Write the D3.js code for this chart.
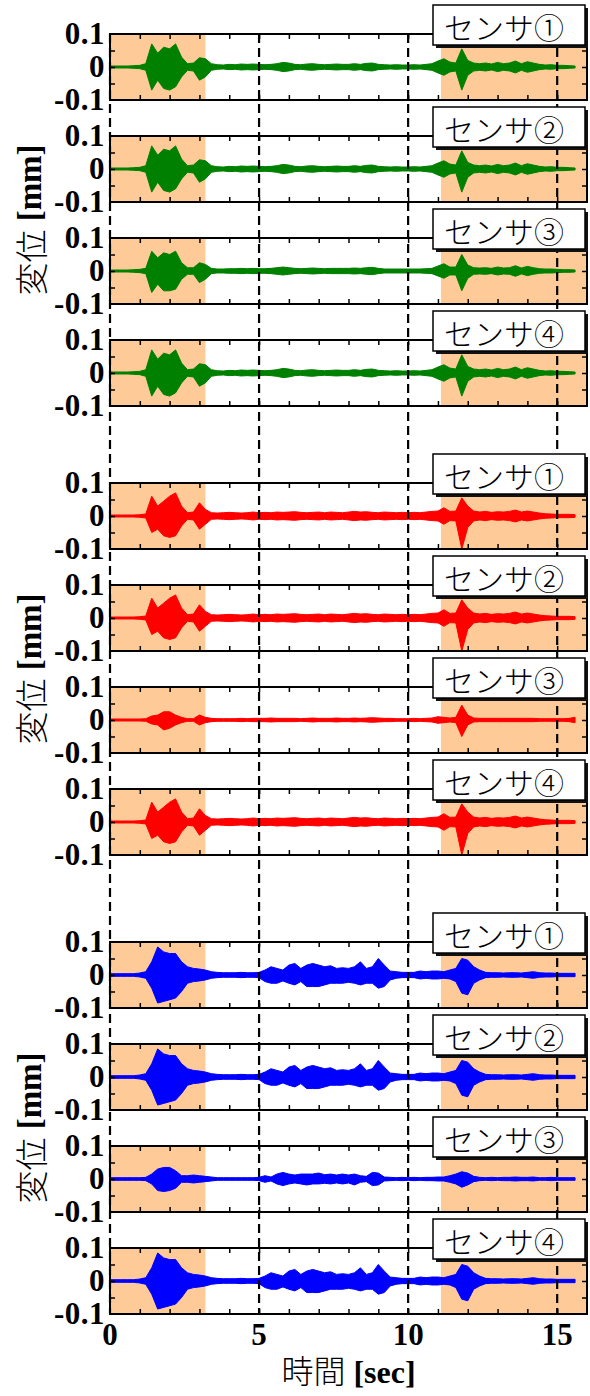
<!DOCTYPE html>
<html>
<head>
<meta charset="utf-8">
<script src="https://cdn.jsdelivr.net/npm/d3@7"></script>
<style>
  body { margin: 0; background: #fff; }
  svg { display: block; }
</style>
</head>
<body>
<div id="chart"></div>
<script>
// Displacement records, 3 cases x 4 sensors
// Signals are kept as envelopes (upper / lower peaks) in 0.001 mm, sampled every 0.2 sec

const TIME = [
  0, 0.2, 0.4, 0.6, 0.8, 1, 1.2, 1.4, 1.6, 1.8,
  2, 2.2, 2.4, 2.6, 2.8, 3, 3.2, 3.4, 3.6, 3.8,
  4, 4.2, 4.4, 4.6, 4.8, 5, 5.2, 5.4, 5.6, 5.8,
  6, 6.2, 6.4, 6.6, 6.8, 7, 7.2, 7.4, 7.6, 7.8,
  8, 8.2, 8.4, 8.6, 8.8, 9, 9.2, 9.4, 9.6, 9.8,
  10, 10.2, 10.4, 10.6, 10.8, 11, 11.2, 11.4, 11.6, 11.8,
  12, 12.2, 12.4, 12.6, 12.8, 13, 13.2, 13.4, 13.6, 13.8,
  14, 14.2, 14.4, 14.6, 14.8, 15, 15.2, 15.4, 15.6
];

// green case
const G1_UP = [
  3, 3, 3, 3, 4, 5, 10, 70, 42, 60,
  55, 70, 30, 10, 12, 28, 25, 10, 7, 6,
  8, 7, 9, 8, 9, 8, 7, 8, 10, 14,
  12, 8, 7, 9, 10, 8, 7, 8, 9, 8,
  8, 10, 8, 11, 12, 8, 7, 6, 7, 6,
  6, 7, 6, 8, 10, 18, 25, 15, 12, 55,
  20, 12, 10, 12, 9, 14, 10, 12, 18, 10,
  16, 12, 8, 6, 7, 5, 5, 4, 3
];
const G1_LO = [
  -3, -3, -3, -3, -4, -5, -10, -70, -40, -65,
  -70, -60, -30, -10, -12, -40, -30, -10, -7, -6,
  -8, -7, -9, -8, -9, -8, -7, -8, -10, -14,
  -12, -8, -7, -9, -10, -8, -7, -8, -9, -8,
  -8, -10, -8, -11, -12, -8, -7, -6, -7, -6,
  -6, -7, -6, -8, -10, -18, -25, -15, -12, -70,
  -25, -12, -10, -12, -9, -14, -10, -12, -18, -10,
  -16, -12, -8, -6, -7, -5, -5, -4, -3
];
const G3_UP = [
  3, 3, 3, 3, 4, 5, 8, 60, 40, 55,
  50, 60, 25, 10, 10, 25, 20, 8, 6, 6,
  7, 7, 8, 7, 8, 7, 7, 8, 10, 12,
  10, 8, 7, 8, 9, 8, 7, 8, 8, 8,
  8, 9, 8, 10, 11, 8, 6, 6, 6, 6,
  6, 6, 6, 7, 8, 15, 22, 12, 12, 50,
  18, 10, 9, 10, 8, 12, 9, 10, 16, 9,
  14, 10, 7, 6, 6, 5, 4, 4, 3
];
const G3_LO = [
  -3, -3, -3, -3, -4, -5, -8, -65, -40, -60,
  -60, -55, -25, -10, -10, -35, -25, -8, -6, -6,
  -7, -7, -8, -7, -8, -7, -7, -8, -10, -12,
  -10, -8, -7, -8, -9, -8, -7, -8, -8, -8,
  -8, -9, -8, -10, -11, -8, -6, -6, -6, -6,
  -6, -6, -6, -7, -8, -15, -22, -12, -12, -60,
  -22, -10, -9, -10, -8, -12, -9, -10, -16, -9,
  -14, -10, -7, -6, -6, -5, -4, -4, -3
];

// red case
const R1_UP = [
  3, 3, 3, 3, 3, 4, 6, 60, 30, 45,
  60, 70, 30, 10, 12, 40, 20, 10, 9, 10,
  11, 10, 9, 10, 12, 10, 11, 10, 12, 11,
  12, 13, 11, 10, 11, 12, 10, 12, 11, 10,
  12, 14, 12, 13, 11, 10, 12, 11, 10, 11,
  10, 11, 10, 12, 14, 15, 25, 14, 15, 55,
  30, 15, 12, 14, 11, 13, 12, 14, 18, 12,
  15, 12, 9, 7, 6, 5, 5, 5, 4
];
const R1_LO = [
  -3, -3, -3, -3, -3, -4, -6, -50, -40, -60,
  -65, -60, -30, -10, -12, -40, -25, -10, -9, -10,
  -11, -10, -9, -10, -12, -10, -11, -10, -12, -11,
  -12, -13, -11, -10, -11, -12, -10, -12, -11, -10,
  -12, -14, -12, -13, -11, -10, -12, -11, -10, -11,
  -10, -11, -10, -12, -14, -15, -25, -14, -15, -100,
  -35, -15, -12, -14, -11, -13, -12, -14, -18, -12,
  -15, -12, -9, -7, -6, -5, -5, -5, -4
];
const R3_UP = [
  3, 3, 3, 3, 3, 3, 4, 12, 15, 25,
  25, 15, 8, 4, 4, 15, 8, 5, 4, 4,
  4, 4, 5, 4, 5, 5, 5, 6, 5, 5,
  5, 5, 4, 5, 6, 5, 5, 5, 6, 5,
  5, 6, 5, 6, 7, 6, 5, 5, 4, 4,
  4, 5, 4, 5, 6, 10, 8, 6, 8, 45,
  15, 6, 5, 5, 5, 5, 5, 5, 5, 5,
  5, 5, 4, 4, 4, 4, 4, 5, 8
];
const R3_LO = [
  -3, -3, -3, -3, -3, -3, -4, -12, -15, -30,
  -25, -15, -8, -4, -4, -15, -8, -5, -4, -4,
  -4, -4, -5, -4, -5, -5, -5, -6, -5, -5,
  -5, -5, -4, -5, -6, -5, -5, -5, -6, -5,
  -5, -6, -5, -6, -7, -6, -5, -5, -4, -4,
  -4, -5, -4, -5, -6, -10, -8, -6, -8, -50,
  -15, -6, -5, -5, -5, -5, -5, -5, -5, -5,
  -5, -5, -4, -4, -4, -4, -4, -5, -8
];

// blue case
const B1_UP = [
  4, 4, 4, 4, 4, 6, 10, 40, 85, 70,
  65, 65, 40, 25, 20, 18, 15, 10, 8, 7,
  7, 7, 8, 7, 7, 8, 15, 25, 20, 15,
  30, 35, 20, 30, 35, 30, 25, 28, 20, 22,
  20, 25, 40, 20, 25, 50, 30, 12, 10, 8,
  8, 8, 12, 10, 12, 12, 10, 15, 20, 50,
  45, 25, 15, 8, 7, 7, 6, 7, 7, 6,
  8, 10, 7, 6, 6, 5, 5, 5, 5
];
const B1_LO = [
  -4, -4, -4, -4, -4, -6, -10, -40, -85, -80,
  -75, -70, -50, -25, -20, -18, -15, -10, -8, -7,
  -7, -7, -8, -7, -7, -8, -20, -25, -25, -18,
  -25, -30, -20, -35, -35, -35, -30, -25, -25, -25,
  -22, -25, -30, -25, -25, -40, -35, -15, -10, -8,
  -8, -8, -12, -10, -12, -12, -10, -12, -20, -55,
  -60, -25, -15, -8, -7, -7, -6, -7, -7, -6,
  -8, -10, -7, -6, -6, -5, -5, -5, -5
];
const B3_UP = [
  4, 4, 4, 4, 4, 4, 5, 15, 30, 35,
  35, 25, 10, 10, 12, 10, 8, 6, 4, 4,
  4, 4, 4, 4, 4, 5, 10, 6, 15, 20,
  15, 12, 15, 15, 15, 18, 13, 15, 12, 15,
  12, 15, 10, 8, 20, 18, 6, 5, 4, 5,
  4, 5, 4, 5, 5, 6, 6, 10, 15, 22,
  18, 8, 5, 4, 5, 4, 5, 5, 6, 5,
  5, 6, 4, 4, 5, 4, 4, 4, 4
];
const B3_LO = [
  -4, -4, -4, -4, -4, -4, -5, -15, -35, -38,
  -35, -28, -10, -10, -12, -10, -8, -6, -4, -4,
  -4, -4, -4, -4, -4, -5, -10, -6, -15, -20,
  -15, -12, -15, -18, -15, -15, -13, -15, -12, -15,
  -12, -18, -10, -8, -20, -18, -6, -5, -4, -5,
  -4, -5, -4, -5, -5, -6, -6, -10, -15, -25,
  -18, -8, -5, -4, -5, -4, -5, -5, -6, -5,
  -5, -6, -4, -4, -5, -4, -4, -4, -4
];

const SENSOR_LABELS = ['センサ①', 'センサ②', 'センサ③', 'センサ④'];
const X_LABEL_TICKS = [0, 5, 10, 15];
const X_MINOR_TICKS = [1, 2, 3, 4, 5, 6, 7, 8, 9, 10, 11, 12, 13, 14, 15];
const Y_LABEL_TICKS = [0.1, 0, -0.1];
const Y_MINOR_TICKS = [-0.05, 0, 0.05];
const SHADED = [[0, 3.2], [11.1, 16]];
const DASHED_AT = [0, 5, 10, 15];

const GROUPS = [
  { color: '#008000', panels: [[G1_UP, G1_LO], [G1_UP, G1_LO], [G3_UP, G3_LO], [G1_UP, G1_LO]] },
  { color: '#ff0000', panels: [[R1_UP, R1_LO], [R1_UP, R1_LO], [R3_UP, R3_LO], [R1_UP, R1_LO]] },
  { color: '#0000ff', panels: [[B1_UP, B1_LO], [B1_UP, B1_LO], [B3_UP, B3_LO], [B1_UP, B1_LO]] }
];

// layout
const W = 590, H = 1396;
const GROUP_TOP = [34, 483, 942];
const PANEL_H = 66, PANEL_STEP = 102;
const SERIF = '"Liberation Serif", "DejaVu Serif", serif';
const JP = '"Noto Sans CJK JP", sans-serif';

const svg = d3.select('#chart').append('svg')
  .attr('width', W)
  .attr('height', H);

const x = d3.scaleLinear().domain([0, 16]).range([110, 587]);

const panelLayer = svg.append('g');
const dashLayer = svg.append('g');
const labelLayer = svg.append('g');

GROUPS.forEach((group, gi) => {
  group.panels.forEach((panel, si) => {
    const top = GROUP_TOP[gi] + si * PANEL_STEP;
    const y = d3.scaleLinear().domain([-0.1, 0.1]).range([top + PANEL_H, top]);
    const g = panelLayer.append('g');

    // shaded time windows
    g.selectAll('.shade')
      .data(SHADED)
      .enter()
      .append('rect')
      .attr('x', d => x(d[0]))
      .attr('y', top)
      .attr('width', d => x(d[1]) - x(d[0]))
      .attr('height', PANEL_H)
      .attr('fill', '#fdca98');

    // signal envelope
    const rows = TIME.map((t, i) => ({ t: t, hi: panel[0][i] / 1000, lo: panel[1][i] / 1000 }));
    const area = d3.area()
      .x(d => x(d.t))
      .y0(d => y(d.lo))
      .y1(d => y(d.hi));
    g.append('path')
      .datum(rows)
      .attr('d', area)
      .attr('fill', group.color)
      .attr('stroke', group.color)
      .attr('stroke-width', 1);

    // inward ticks on all four sides
    const tickStyle = sel => {
      sel.select('.domain').remove();
      sel.selectAll('line').attr('stroke', '#000').attr('stroke-width', 1.5);
    };
    g.append('g').attr('transform', `translate(0,${top + PANEL_H})`)
      .call(d3.axisBottom(x).tickValues(X_MINOR_TICKS).tickSize(-5).tickFormat(''))
      .call(tickStyle);
    g.append('g').attr('transform', `translate(0,${top})`)
      .call(d3.axisTop(x).tickValues(X_MINOR_TICKS).tickSize(-5).tickFormat(''))
      .call(tickStyle);
    g.append('g').attr('transform', `translate(${x(0)},0)`)
      .call(d3.axisLeft(y).tickValues(Y_MINOR_TICKS).tickSize(-5).tickFormat(''))
      .call(tickStyle);
    g.append('g').attr('transform', `translate(${x(16)},0)`)
      .call(d3.axisRight(y).tickValues(Y_MINOR_TICKS).tickSize(-5).tickFormat(''))
      .call(tickStyle);

    // frame
    g.append('rect')
      .attr('x', x(0))
      .attr('y', top)
      .attr('width', x(16) - x(0))
      .attr('height', PANEL_H)
      .attr('fill', 'none')
      .attr('stroke', '#000')
      .attr('stroke-width', 2);

    // y tick labels
    g.selectAll('.ylab')
      .data(Y_LABEL_TICKS)
      .enter()
      .append('text')
      .attr('x', x(0) - 5)
      .attr('y', d => y(d) + 10)
      .attr('text-anchor', 'end')
      .style('font-family', SERIF)
      .style('font-weight', 'bold')
      .style('font-size', '31px')
      .style('letter-spacing', '0.5px')
      .text(d => d === 0 ? '0' : String(d));

    // sensor label box with shadow
    const bx = 433, by = top - 29, bw = 152, bh = 40;
    labelLayer.append('rect')
      .attr('x', bx + 3).attr('y', by + 3)
      .attr('width', bw).attr('height', bh)
      .attr('fill', '#111');
    labelLayer.append('rect')
      .attr('x', bx).attr('y', by)
      .attr('width', bw).attr('height', bh)
      .attr('fill', '#fff')
      .attr('stroke', '#000')
      .attr('stroke-width', 1.5);
    labelLayer.append('text')
      .attr('x', 504)
      .attr('y', by + bh / 2 + 1)
      .attr('text-anchor', 'middle')
      .attr('dominant-baseline', 'central')
      .style('font-family', JP)
      .style('font-size', '30px')
      .style('font-weight', 300)
      .text(SENSOR_LABELS[si]);
  });

  // y axis title for the group
  const mid = GROUP_TOP[gi] + (3 * PANEL_STEP + PANEL_H) / 2;
  const title = svg.append('text')
    .attr('transform', `translate(30,${mid}) rotate(-90)`)
    .attr('text-anchor', 'middle')
    .attr('dominant-baseline', 'central')
    .style('font-size', '33px');
  title.append('tspan').style('font-family', JP).style('font-weight', 300).text('変位');
  title.append('tspan').style('font-family', SERIF).style('font-weight', 'bold').text(' [mm]');
});

// dashed time markers running through all panels
const yTop = GROUP_TOP[0];
const yBottom = GROUP_TOP[2] + 3 * PANEL_STEP + PANEL_H;
dashLayer.selectAll('line')
  .data(DASHED_AT)
  .enter()
  .append('line')
  .attr('x1', d => x(d))
  .attr('x2', d => x(d))
  .attr('y1', yTop)
  .attr('y2', yBottom)
  .attr('stroke', '#000')
  .attr('stroke-width', 2.2)
  .attr('stroke-dasharray', '9,5');

// x tick labels under the last panel
svg.selectAll('.xlab')
  .data(X_LABEL_TICKS)
  .enter()
  .append('text')
  .attr('x', d => x(d))
  .attr('y', yBottom + 31)
  .attr('text-anchor', 'middle')
  .style('font-family', SERIF)
  .style('font-weight', 'bold')
  .style('font-size', '31px')
  .text(d => d);

const xTitle = svg.append('text')
  .attr('x', (x(0) + x(16)) / 2)
  .attr('y', 1383)
  .attr('text-anchor', 'middle')
  .style('font-size', '32px');
xTitle.append('tspan').style('font-family', JP).style('font-weight', 300).text('時間');
xTitle.append('tspan').style('font-family', SERIF).style('font-weight', 'bold').text(' [sec]');
</script>
</body>
</html>
